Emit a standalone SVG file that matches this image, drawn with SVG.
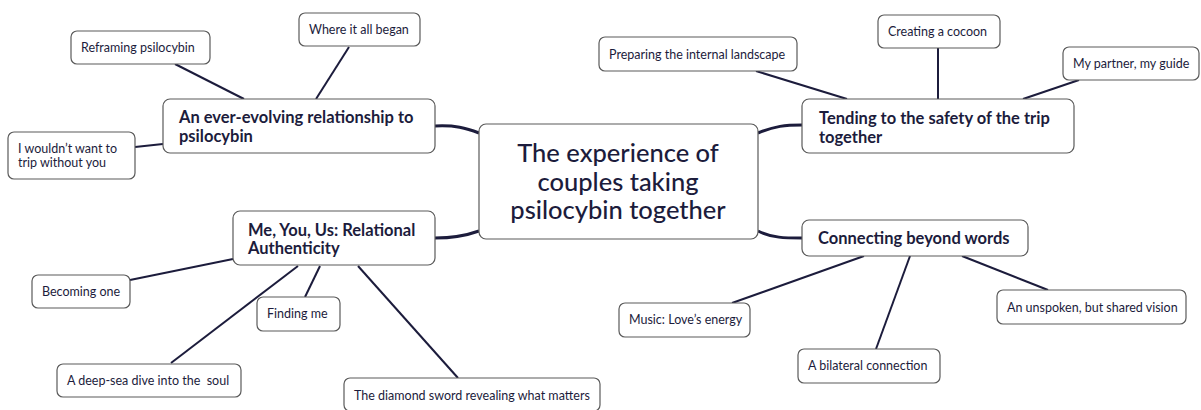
<svg xmlns="http://www.w3.org/2000/svg" width="1201" height="410" viewBox="0 0 1201 410">
<style>
.box{fill:#fff;stroke:#5a5a5a;stroke-width:1.2}
.t{font-family:Lato,"Liberation Sans",sans-serif;fill:#1c1c3c}
.s{font-size:12.5px}
.m{font-size:16.5px;font-weight:bold}
.c{font-size:25.5px;font-weight:500}
.ln{fill:none;stroke:#1c1c3c;stroke-width:2}
.th{fill:none;stroke:#1c1c3c;stroke-width:3}
</style>
<rect width="1201" height="410" fill="#fff"/>
<g id="connectors">
<path class="th" d="M435,126 C455,125 466,128 479,133"/>
<path class="th" d="M758,133 C775,126 785,125 802,125"/>
<path class="th" d="M435,238 C452,238 465,236 479,231"/>
<path class="th" d="M758,231 C772,238 785,238 802,238"/>
<path class="ln" d="M175,64 L244,99"/>
<path class="ln" d="M349,47 L316,99"/>
<path class="ln" d="M135,147 L163,144"/>
<path class="ln" d="M756,71 L847,99"/>
<path class="ln" d="M938,48 L938,99"/>
<path class="ln" d="M1079,80 L1023,99"/>
<path class="ln" d="M130,280 L233,259"/>
<path class="ln" d="M305,297 L320,266"/>
<path class="ln" d="M171,363 L298,266"/>
<path class="ln" d="M458,378 L358,266"/>
<path class="ln" d="M732,303 L864,256"/>
<path class="ln" d="M876,349 L910,256"/>
<path class="ln" d="M1048,290 L962,256"/>
</g>
<g id="center">
<rect class="box" x="479" y="124" width="279" height="115" rx="7"/>
<text class="t c" text-anchor="middle" x="618" y="162">The experience of</text>
<text class="t c" text-anchor="middle" x="618" y="191">couples taking</text>
<text class="t c" text-anchor="middle" x="618" y="219">psilocybin together</text>
</g>
<g id="evolving">
<rect class="box" x="163" y="99" width="272" height="54" rx="7"/>
<text class="t m" x="179" y="123">An ever-evolving relationship to</text>
<text class="t m" x="179" y="142">psilocybin</text>
</g>
<g id="reframing">
<rect class="box" x="71" y="31" width="139" height="33" rx="6"/>
<text class="t s" x="81" y="52">Reframing psilocybin</text>
</g>
<g id="began">
<rect class="box" x="299" y="13" width="121" height="33" rx="6"/>
<text class="t s" x="309" y="34">Where it all began</text>
</g>
<g id="without">
<rect class="box" x="8" y="132" width="127" height="47" rx="6"/>
<text class="t s" x="18" y="153">I wouldn’t want to</text>
<text class="t s" x="18" y="167">trip without you</text>
</g>
<g id="tending">
<rect class="box" x="802" y="99" width="272" height="54" rx="7"/>
<text class="t m" x="819" y="124">Tending to the safety of the trip</text>
<text class="t m" x="819" y="143">together</text>
</g>
<g id="preparing">
<rect class="box" x="599" y="37" width="198" height="34" rx="6"/>
<text class="t s" x="609" y="59">Preparing the internal landscape</text>
</g>
<g id="cocoon">
<rect class="box" x="878" y="15" width="122" height="33" rx="6"/>
<text class="t s" x="888" y="36">Creating a cocoon</text>
</g>
<g id="guide">
<rect class="box" x="1063" y="47" width="136" height="33" rx="6"/>
<text class="t s" x="1073" y="68">My partner, my guide</text>
</g>
<g id="meyouus">
<rect class="box" x="233" y="211" width="202" height="54" rx="7"/>
<text class="t m" x="248" y="236">Me, You, Us: Relational</text>
<text class="t m" x="248" y="254">Authenticity</text>
</g>
<g id="becoming">
<rect class="box" x="32" y="275" width="98" height="33" rx="6"/>
<text class="t s" x="42" y="296">Becoming one</text>
</g>
<g id="finding">
<rect class="box" x="257" y="297" width="83" height="34" rx="6"/>
<text class="t s" x="267" y="318">Finding me</text>
</g>
<g id="deepsea">
<rect class="box" x="57" y="364" width="184" height="33" rx="6"/>
<text class="t s" x="67" y="385" xml:space="preserve" style="white-space:pre">A deep-sea dive into the  soul</text>
</g>
<g id="diamond">
<rect class="box" x="344" y="378" width="256" height="33" rx="6"/>
<text class="t s" x="354" y="400">The diamond sword revealing what matters</text>
</g>
<g id="connecting">
<rect class="box" x="802" y="220" width="226" height="36" rx="7"/>
<text class="t m" x="818" y="244">Connecting beyond words</text>
</g>
<g id="music">
<rect class="box" x="619" y="303" width="131" height="34" rx="6"/>
<text class="t s" x="629" y="324">Music: Love’s energy</text>
</g>
<g id="bilateral">
<rect class="box" x="798" y="349" width="142" height="34" rx="6"/>
<text class="t s" x="808" y="370">A bilateral connection</text>
</g>
<g id="unspoken">
<rect class="box" x="997" y="290" width="189" height="34" rx="6"/>
<text class="t s" x="1007" y="312">An unspoken, but shared vision</text>
</g>
</svg>
